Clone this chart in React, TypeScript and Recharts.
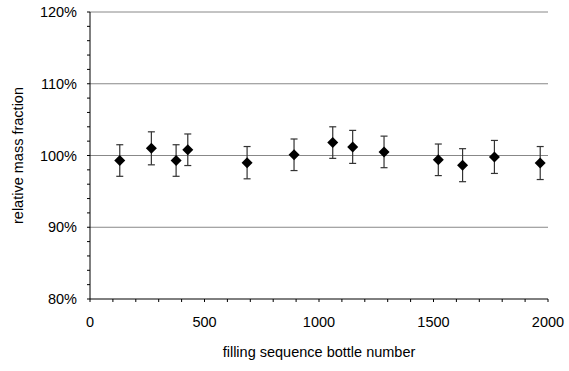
import { ScatterChart, Scatter, XAxis, YAxis, CartesianGrid, ErrorBar, Label } from 'recharts'

const bottleNumbers = [130, 268, 376, 427, 686, 891, 1060, 1147, 1284, 1521, 1627, 1766, 1966]
const massFractions = [99.3, 101.0, 99.3, 100.8, 99.0, 100.1, 101.8, 101.2, 100.5, 99.4, 98.65, 99.8, 98.95]
const uncertainties = [2.2, 2.3, 2.2, 2.2, 2.25, 2.2, 2.2, 2.3, 2.2, 2.2, 2.3, 2.3, 2.3]

const xTicks = [0, 100, 200, 300, 400, 500, 600, 700, 800, 900, 1000, 1100, 1200, 1300, 1400, 1500, 1600, 1700, 1800, 1900, 2000]
const yTicks = [80, 82, 84, 86, 88, 90, 92, 94, 96, 98, 100, 102, 104, 106, 108, 110, 112, 114, 116, 118, 120]
const gridValues = [90, 100, 110, 120]

const data = bottleNumbers.map((bottle, i) => ({
  bottle,
  fraction: massFractions[i],
  err: uncertainties[i],
}))

const FONT = '"Liberation Sans", Arial, sans-serif'
const FONT_SIZE = 14.5

function Diamond(props: any) {
  const { cx, cy } = props
  const r = 5.5
  return <path d={`M${cx},${cy - r}L${cx + r},${cy}L${cx},${cy + r}L${cx - r},${cy}Z`} fill="#000" />
}

function XTick({ x, y, payload }: any) {
  if (payload.value % 500 !== 0) return <g />
  return (
    <text x={x} y={y} dy="0.71em" textAnchor="middle" fill="#000" fontSize={FONT_SIZE} fontFamily={FONT}>
      {payload.value}
    </text>
  )
}

function YTick({ x, y, payload }: any) {
  if (payload.value % 10 !== 0) return <g />
  return (
    <text x={x} y={y} dy="0.355em" textAnchor="end" fill="#000" fontSize={FONT_SIZE} fontFamily={FONT}>
      {payload.value}%
    </text>
  )
}

export default function App() {
  return (
    <div style={{ position: 'absolute', left: 0, top: 0 }}>
      <ScatterChart width={569} height={371} margin={{ top: 12, right: 21, left: 8, bottom: 12 }}>
        <CartesianGrid vertical={false} horizontalValues={gridValues} stroke="#888" />
        <XAxis
          type="number"
          dataKey="bottle"
          domain={[0, 2000]}
          ticks={xTicks}
          interval={0}
          height={60}
          tickSize={3}
          tickMargin={15}
          axisLine={{ stroke: '#000' }}
          tickLine={{ stroke: '#000' }}
          tick={<XTick />}
        >
          <Label
            content={({ viewBox }: any) => {
              const cx = viewBox.x + viewBox.width / 2
              const cy = viewBox.y + 53
              return (
                <text x={cx} y={cy} dominantBaseline="central" textAnchor="middle" fill="#000" fontSize={FONT_SIZE} fontFamily={FONT}>
                  filling sequence bottle number
                </text>
              )
            }}
          />
        </XAxis>
        <YAxis
          type="number"
          dataKey="fraction"
          domain={[80, 120]}
          ticks={yTicks}
          interval={0}
          width={82}
          tickSize={3}
          tickMargin={10}
          axisLine={{ stroke: '#000' }}
          tickLine={{ stroke: '#000' }}
          tick={<YTick />}
        >
          <Label
            content={({ viewBox }: any) => {
              const cx = viewBox.x + 10
              const cy = viewBox.y + viewBox.height / 2
              return (
                <text
                  x={cx}
                  y={cy}
                  transform={`rotate(-90 ${cx} ${cy})`}
                  dominantBaseline="central"
                  textAnchor="middle"
                  fill="#000"
                  fontSize={FONT_SIZE}
                  fontFamily={FONT}
                >
                  relative mass fraction
                </text>
              )
            }}
          />
        </YAxis>
        <Scatter data={data} shape={<Diamond />} isAnimationActive={false}>
          <ErrorBar dataKey="err" direction="y" width={3.5} stroke="#333" strokeWidth={1.2} />
        </Scatter>
      </ScatterChart>
    </div>
  )
}
